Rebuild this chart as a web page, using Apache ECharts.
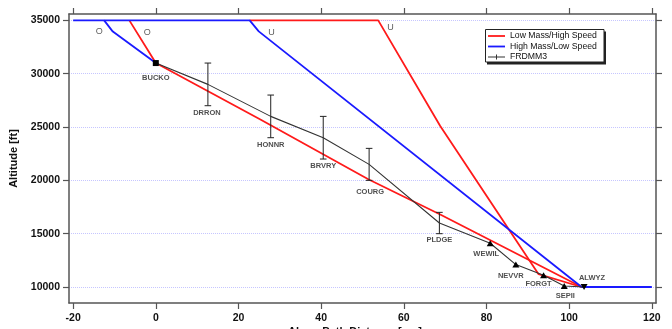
<!DOCTYPE html>
<html><head><meta charset="utf-8">
<script src="https://cdn.jsdelivr.net/npm/echarts@6/dist/echarts.min.js"></script>
<style>html,body{margin:0;padding:0;background:#fff}#c{width:672px;height:329px}</style>
</head><body><div id="c"></div>
<script>
// ---- data ----
const xTicks = [-20, 0, 20, 40, 60, 80, 100, 120];
const yTicks = [10000, 15000, 20000, 25000, 30000, 35000];

const lowMassO  = [[-6.4,35000],[0,31000],[25.3,25700],[51.4,20100],[68.8,16800],[103,10000]];
const lowMassU  = [[22.7,35000],[53.8,35000],[68.8,25100],[92.6,11200],[103,10000]];
const highMassO = [[-12.5,35000],[-10.4,33950],[0,31000]];
const highMassU = [[-20,35000],[22.7,35000],[24.9,33970],[103,10000],[120,10000]];

const wpNames = ['BUCKO','DRRON','HONNR','BRVRY','COURG','PLDGE','WEWIL','NEVVR','FORGT','SEPII','ALWYZ'];
const wpDist  = [0, 12.6, 27.8, 40.5, 51.6, 68.6, 80.9, 87.1, 93.8, 98.8, 103.6];
const wpAlt   = [31000, 29000, 26000, 24000, 21500, 16000, 14100, 12100, 11100, 10100, 10000];
const wpErrLo = [null, 27000, 24000, 22000, 20000, 15000, null, null, null, null, null];
const wpErrHi = [null, 31000, 28000, 26000, 23000, 17000, null, null, null, null, null];
const wpMark  = ['square','none','none','none','none','none','up','up','up','up','down'];

const noteText = ['O','O','U','U'];
const noteDist = [-13.7, -2.1, 28.0, 56.8];
const noteAlt  = [34000, 33820, 33910, 34290];

// ---- style ----
const FONT = "'Liberation Sans', Arial, sans-serif";
const RED = '#ff1a1a', BLUE = '#1a1aff', BLACK = '#333';
const labelOffsets = [[0,15],[-1,29],[0,29],[0,28],[1,28],[0,17],[-4,11],[-5,11],[-5,9],[1,10],[8,-9]];

const lineData = wpNames.map((n,i) => {
  const m = wpMark[i];
  const item = { value: [wpDist[i], wpAlt[i]], name: n };
  if (m === 'none') { item.symbol = 'none'; }
  else if (m === 'square') { item.symbol = 'rect'; item.symbolSize = 6; }
  else { item.symbol = 'triangle'; item.symbolSize = [7,6]; item.symbolRotate = (m === 'down') ? 180 : 0; }
  return item;
});
const errData = [];
wpNames.forEach((n,i) => { if (wpErrLo[i] != null) errData.push([wpDist[i], wpErrLo[i], wpErrHi[i]]); });
const labelData = wpNames.map((n,i) => ({
  value: [wpDist[i], wpAlt[i]], name: n,
  label: { show: true, formatter: n, position: 'inside', offset: labelOffsets[i] }
}));
const noteData = noteText.map((t,i) => ({ value: [noteDist[i], noteAlt[i]], name: t }));

const axisLineStyle = { color: '#555', width: 1.5 };
const lineIcon = 'path://M0,0 L0,0 M0,4.1 L17,4.1 L17,5.9 L0,5.9 Z M0,10 L0,10';
const crossIcon = 'path://M0,0 L0,0 M0,4.5 L17,4.5 L17,5.5 L0,5.5 Z M8,2.5 L9,2.5 L9,7.5 L8,7.5 Z M0,10 L0,10';
const chart = echarts.init(document.getElementById('c'), null, { renderer: 'canvas' });
chart.setOption({
  animation: false,
  backgroundColor: '#fff',
  grid: { left: 69, right: 16, top: 14, bottom: 26 },
  xAxis: [{
    type: 'value', min: -21, max: 121, position: 'bottom',
    axisLine: { show: true, onZero: false, lineStyle: axisLineStyle },
    axisTick: { show: true, length: 6, customValues: xTicks, lineStyle: { color: '#555', width: 1.2 } },
    axisLabel: { customValues: xTicks, margin: 10, color: '#111', fontFamily: FONT, fontWeight: 'bold', fontSize: 10.5, formatter: v => String(v) },
    splitLine: { show: false }
  }, {
    type: 'value', min: -21, max: 121, position: 'top',
    axisLine: { show: true, onZero: false, lineStyle: axisLineStyle },
    axisTick: { show: true, length: 6, customValues: xTicks, lineStyle: { color: '#555', width: 1.2 } },
    axisLabel: { show: false }, splitLine: { show: false }
  }],
  yAxis: [{
    type: 'value', min: 8500, max: 35600, position: 'left',
    name: 'Altitude [ft]', nameLocation: 'middle', nameGap: 50,
    nameTextStyle: { fontFamily: FONT, fontWeight: 'bold', fontSize: 11, color: '#111' },
    axisLine: { show: true, onZero: false, lineStyle: axisLineStyle },
    axisTick: { show: true, length: 6, customValues: yTicks, lineStyle: { color: '#555', width: 1.2 } },
    axisLabel: { customValues: yTicks, margin: 9, color: '#111', fontFamily: FONT, fontWeight: 'bold', fontSize: 10.5, formatter: v => String(v) },
    splitLine: { show: true, lineStyle: { color: '#c6c6ff', type: [1,1], width: 1 } }
  }, {
    type: 'value', min: 8500, max: 35600, position: 'right',
    axisLine: { show: true, onZero: false, lineStyle: axisLineStyle },
    axisTick: { show: true, length: 6, customValues: yTicks, lineStyle: { color: '#555', width: 1.2 } },
    axisLabel: { show: false }, splitLine: { show: false }
  }],
  legend: {
    orient: 'vertical', left: 488, top: 31, padding: 0, itemGap: 0.5,
    itemWidth: 17, itemHeight: 10,
    textStyle: { fontFamily: FONT, fontSize: 8.7, color: '#111', lineHeight: 10 },
    data: [
      { name: 'Low Mass/High Speed', icon: lineIcon },
      { name: 'High Mass/Low Speed', icon: lineIcon },
      { name: 'FRDMM3', icon: crossIcon, itemStyle: { color: '#333' } }
    ],
    z: 10
  },
  graphic: [
    { type: 'rect', z: 5, shape: { x: 487, y: 31.5, width: 119, height: 33 }, style: { fill: '#222' } },
    { type: 'rect', z: 6, shape: { x: 485.5, y: 29.5, width: 118.5, height: 32.5 }, style: { fill: '#fff', stroke: '#222', lineWidth: 1 } },
    { type: 'text', z: 6, x: 355, y: 332, style: { text: 'Along Path Distance [nm]', font: 'bold 11px ' + FONT, fill: '#111', textAlign: 'center', textVerticalAlign: 'middle' } }
  ],
  series: [
    { name: 'Low Mass/High Speed', type: 'line', data: lowMassO, symbol: 'none', lineStyle: { color: RED, width: 1.8 }, itemStyle: { color: RED }, z: 3 },
    { name: 'Low Mass/High Speed', type: 'line', data: lowMassU, symbol: 'none', lineStyle: { color: RED, width: 1.8 }, itemStyle: { color: RED }, z: 3 },
    { name: 'High Mass/Low Speed', type: 'line', data: highMassO, symbol: 'none', lineStyle: { color: BLUE, width: 1.8 }, itemStyle: { color: BLUE }, z: 4 },
    { name: 'High Mass/Low Speed', type: 'line', data: highMassU, symbol: 'none', lineStyle: { color: BLUE, width: 1.8 }, itemStyle: { color: BLUE }, z: 4 },
    { name: 'FRDMM3', type: 'line', data: lineData, lineStyle: { color: BLACK, width: 1.1 }, itemStyle: { color: '#000' }, z: 5 },
    { name: 'errbars', type: 'custom', data: errData, z: 5,
      renderItem: function (params, api) {
        const x = api.value(0), lo = api.value(1), hi = api.value(2);
        const a = api.coord([x, lo]), b = api.coord([x, hi]);
        const w = 3.3, st = { stroke: '#222', lineWidth: 1 };
        return { type: 'group', children: [
          { type: 'line', shape: { x1: a[0], y1: a[1], x2: b[0], y2: b[1] }, style: st },
          { type: 'line', shape: { x1: a[0]-w, y1: a[1], x2: a[0]+w, y2: a[1] }, style: st },
          { type: 'line', shape: { x1: b[0]-w, y1: b[1], x2: b[0]+w, y2: b[1] }, style: st }
        ]};
      }
    },
    { name: 'wplabels', type: 'scatter', data: labelData, symbolSize: 1, itemStyle: { color: 'rgba(0,0,0,0)' }, z: 6,
      label: { show: true, fontFamily: FONT, fontWeight: 'bold', fontSize: 7.5, color: '#222' } },
    { name: 'notes', type: 'scatter', data: noteData, symbolSize: 1, itemStyle: { color: 'rgba(0,0,0,0)' }, z: 6,
      label: { show: true, position: 'inside', formatter: '{b}', fontFamily: FONT, fontSize: 9, color: '#333' } }
  ]
});
</script></body></html>
